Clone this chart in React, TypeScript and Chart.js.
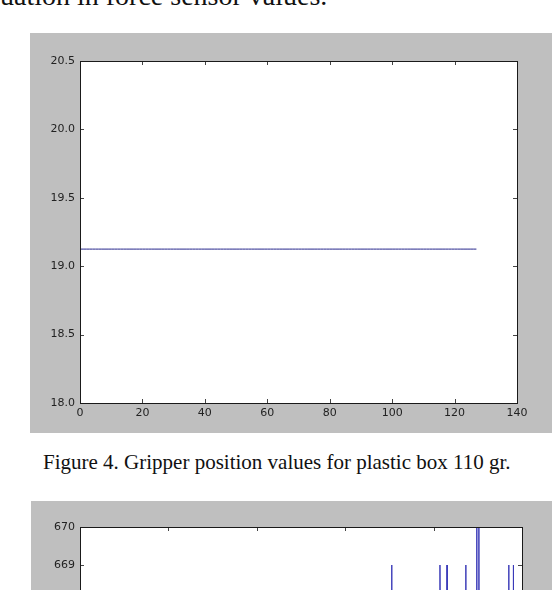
import React, { useEffect, useRef } from "react";
import { Chart, registerables } from "chart.js";

Chart.register(...registerables);

// ---------- text ----------
const TOP_TEXT = "uation in force sensor values.";
const CAPTION = "Figure 4. Gripper position values for plastic box 110 gr.";

// ---------- Figure 4 (gripper position) ----------
const fig4XTicks = [0, 20, 40, 60, 80, 100, 120, 140];
const fig4YTicks = [18.0, 18.5, 19.0, 19.5, 20.0, 20.5];
const fig4Samples = [
  0, 1, 2, 3, 4, 5, 6, 7, 8, 9, 10, 11, 12, 13, 14, 15,
  16, 17, 18, 19, 20, 21, 22, 23, 24, 25, 26, 27, 28, 29, 30, 31,
  32, 33, 34, 35, 36, 37, 38, 39, 40, 41, 42, 43, 44, 45, 46, 47,
  48, 49, 50, 51, 52, 53, 54, 55, 56, 57, 58, 59, 60, 61, 62, 63,
  64, 65, 66, 67, 68, 69, 70, 71, 72, 73, 74, 75, 76, 77, 78, 79,
  80, 81, 82, 83, 84, 85, 86, 87, 88, 89, 90, 91, 92, 93, 94, 95,
  96, 97, 98, 99, 100, 101, 102, 103, 104, 105, 106, 107, 108, 109, 110, 111,
  112, 113, 114, 115, 116, 117, 118, 119, 120, 121, 122, 123, 124, 125, 126, 127,
];
const fig4Position = [
  19.125, 19.125, 19.125, 19.125, 19.125, 19.125, 19.125, 19.125, 19.125, 19.125, 19.125, 19.125, 19.125, 19.125, 19.125, 19.125,
  19.125, 19.125, 19.125, 19.125, 19.125, 19.125, 19.125, 19.125, 19.125, 19.125, 19.125, 19.125, 19.125, 19.125, 19.125, 19.125,
  19.125, 19.125, 19.125, 19.125, 19.125, 19.125, 19.125, 19.125, 19.125, 19.125, 19.125, 19.125, 19.125, 19.125, 19.125, 19.125,
  19.125, 19.125, 19.125, 19.125, 19.125, 19.125, 19.125, 19.125, 19.125, 19.125, 19.125, 19.125, 19.125, 19.125, 19.125, 19.125,
  19.125, 19.125, 19.125, 19.125, 19.125, 19.125, 19.125, 19.125, 19.125, 19.125, 19.125, 19.125, 19.125, 19.125, 19.125, 19.125,
  19.125, 19.125, 19.125, 19.125, 19.125, 19.125, 19.125, 19.125, 19.125, 19.125, 19.125, 19.125, 19.125, 19.125, 19.125, 19.125,
  19.125, 19.125, 19.125, 19.125, 19.125, 19.125, 19.125, 19.125, 19.125, 19.125, 19.125, 19.125, 19.125, 19.125, 19.125, 19.125,
  19.125, 19.125, 19.125, 19.125, 19.125, 19.125, 19.125, 19.125, 19.125, 19.125, 19.125, 19.125, 19.125, 19.125, 19.125, 19.125,
];

// ---------- Next figure (force sensor, only its top is visible) ----------
const fig5XTicks = [0, 500, 1000, 1500, 2000, 2500];
const fig5YTicks = [664, 665, 666, 667, 668, 669, 670];
const fig5Samples = [
  0, 1762, 1763, 1764,
  2035, 2036, 2037, 2075, 2076, 2077,
  2181, 2182, 2183,
  2243, 2244, 2245, 2255, 2256, 2257,
  2424, 2425, 2426, 2450, 2451, 2452,
  2500,
];
const fig5Force = [
  668, 668, 669, 668,
  668, 669, 668, 668, 669, 668,
  668, 669, 668,
  668, 671, 668, 668, 671, 668,
  668, 669, 668, 668, 669, 668,
  668,
];

const GRAY = "#bfbfbf";
const TICK_FONT = { family: "'DejaVu Sans', sans-serif", size: 11 };

const mplPlugin = {
  id: "mplFrame",
  beforeDraw(chart: any) {
    const { ctx, chartArea: a } = chart;
    ctx.save();
    ctx.fillStyle = GRAY;
    ctx.fillRect(0, 0, chart.width, chart.height);
    ctx.fillStyle = "#ffffff";
    ctx.fillRect(a.left, a.top, a.right - a.left, a.bottom - a.top);
    ctx.restore();
  },
  afterDraw(chart: any) {
    const { ctx, chartArea: a } = chart;
    const xs = chart.scales.x;
    const ys = chart.scales.y;
    ctx.save();
    ctx.strokeStyle = "#444";
    ctx.lineWidth = 1;
    ctx.beginPath();
    xs.ticks.forEach((t: any) => {
      const px = Math.round(xs.getPixelForValue(t.value)) + 0.5;
      ctx.moveTo(px, a.bottom);
      ctx.lineTo(px, a.bottom - 4);
      ctx.moveTo(px, a.top);
      ctx.lineTo(px, a.top + 4);
    });
    ys.ticks.forEach((t: any) => {
      const py = Math.round(ys.getPixelForValue(t.value)) + 0.5;
      ctx.moveTo(a.left, py);
      ctx.lineTo(a.left + 4, py);
      ctx.moveTo(a.right, py);
      ctx.lineTo(a.right - 4, py);
    });
    ctx.stroke();
    ctx.strokeStyle = "#1a1a1a";
    ctx.strokeRect(
      Math.round(a.left) + 0.5,
      Math.round(a.top) + 0.5,
      Math.round(a.right) - Math.round(a.left),
      Math.round(a.bottom) - Math.round(a.top)
    );
    ctx.restore();
  },
};

function buildConfig(opts: {
  xs: number[];
  ys: number[];
  xTicks: number[];
  yTicks: number[];
  color: string;
  yLabel: (v: number) => string;
  padding: { top: number; right: number; bottom: number; left: number };
  yWidth: number;
  xHeight: number;
}) {
  const points = opts.xs.map((x, i) => ({ x, y: opts.ys[i] }));
  const xMin = opts.xTicks[0];
  const xMax = opts.xTicks[opts.xTicks.length - 1];
  const yMin = opts.yTicks[0];
  const yMax = opts.yTicks[opts.yTicks.length - 1];
  return {
    type: "line",
    data: {
      datasets: [
        {
          data: points,
          borderColor: opts.color,
          borderWidth: 1,
          pointRadius: 0,
          tension: 0,
          fill: false,
        },
      ],
    },
    options: {
      responsive: false,
      animation: false,
      devicePixelRatio: 1,
      layout: { padding: opts.padding },
      plugins: { legend: { display: false }, tooltip: { enabled: false } },
      scales: {
        x: {
          type: "linear",
          min: xMin,
          max: xMax,
          afterBuildTicks: (s: any) => {
            s.ticks = opts.xTicks.map((v) => ({ value: v }));
          },
          afterFit: (s: any) => {
            s.height = opts.xHeight;
          },
          grid: { display: false, drawTicks: false },
          border: { display: false },
          ticks: {
            padding: 4,
            color: "#222",
            font: TICK_FONT,
            maxRotation: 0,
            autoSkip: false,
            callback: (v: any) => String(v),
          },
        },
        y: {
          type: "linear",
          min: yMin,
          max: yMax,
          afterBuildTicks: (s: any) => {
            s.ticks = opts.yTicks.map((v) => ({ value: v }));
          },
          afterFit: (s: any) => {
            s.width = opts.yWidth;
          },
          grid: { display: false, drawTicks: false },
          border: { display: false },
          ticks: {
            padding: 5,
            color: "#222",
            font: TICK_FONT,
            autoSkip: false,
            callback: (v: any) => opts.yLabel(Number(v)),
          },
        },
      },
    },
    plugins: [mplPlugin],
  };
}

function ChartBox(props: { cfg: any; left: number; top: number; width: number; height: number }) {
  const ref = useRef<HTMLCanvasElement | null>(null);
  useEffect(() => {
    if (!ref.current) return;
    const chart = new Chart(ref.current, props.cfg);
    return () => chart.destroy();
  }, []);
  return (
    <canvas
      ref={ref}
      width={props.width}
      height={props.height}
      style={{
        position: "absolute",
        left: props.left,
        top: props.top,
        width: props.width,
        height: props.height,
        display: "block",
      }}
    />
  );
}

export default function App() {
  const cfg4 = buildConfig({
    xs: fig4Samples,
    ys: fig4Position,
    xTicks: fig4XTicks,
    yTicks: fig4YTicks,
    color: "#26268c",
    yLabel: (v) => v.toFixed(1),
    padding: { top: 28, right: 35, bottom: 0, left: 0 },
    yWidth: 50,
    xHeight: 30,
  });
  const cfg5 = buildConfig({
    xs: fig5Samples,
    ys: fig5Force,
    xTicks: fig5XTicks,
    yTicks: fig5YTicks,
    color: "#3a3ab8",
    yLabel: (v) => String(v),
    padding: { top: 26, right: 30, bottom: 30, left: 0 },
    yWidth: 49,
    xHeight: 30,
  });

  return (
    <div
      style={{
        position: "fixed",
        left: 0,
        top: 0,
        width: 554,
        height: 590,
        overflow: "hidden",
        background: "#ffffff",
      }}
    >
      <div
        style={{
          position: "absolute",
          left: 0,
          top: -18,
          fontFamily: "'Liberation Serif', 'Times New Roman', serif",
          fontSize: 28,
          lineHeight: "28px",
          whiteSpace: "nowrap",
          color: "#111",
        }}
      >
        {TOP_TEXT}
      </div>
      <ChartBox cfg={cfg4} left={30} top={33} width={522} height={400} />
      <div
        style={{
          position: "absolute",
          left: 43,
          top: 452,
          fontFamily: "'Liberation Serif', 'Times New Roman', serif",
          fontSize: 21,
          lineHeight: "21px",
          whiteSpace: "nowrap",
          color: "#111",
        }}
      >
        {CAPTION}
      </div>
      <ChartBox cfg={cfg5} left={31} top={501} width={521} height={314} />
    </div>
  );
}
